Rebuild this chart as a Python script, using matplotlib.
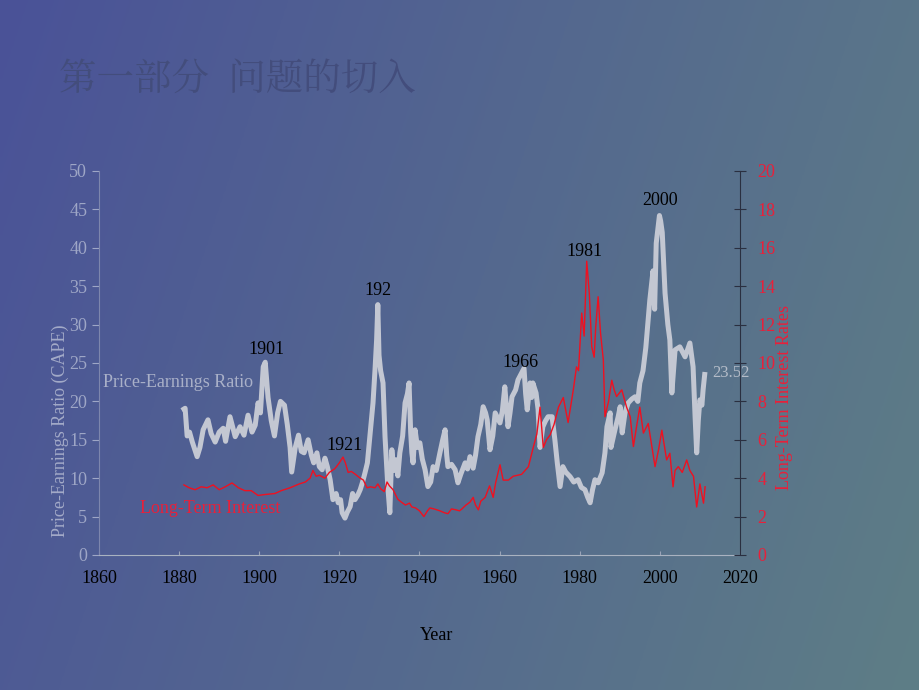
import numpy as np
import matplotlib
matplotlib.use("Agg")
import matplotlib.pyplot as plt

# CAPE (Price-Earnings Ratio)
cape_years = [1881.2, 1881.5, 1882.0, 1882.6, 1883.3, 1884.5, 1885.2, 1886.0, 1887.2, 1888.0,
              1889.0, 1890.0, 1891.0, 1891.6, 1892.7, 1894.0, 1895.2, 1896.2, 1897.2, 1898.2,
              1899.0, 1899.7, 1900.3, 1901.0, 1901.5, 1902.2, 1903.0, 1903.8, 1904.6, 1905.3,
              1906.3, 1907.0, 1907.7, 1908.1, 1909.0, 1909.8, 1910.5, 1911.2, 1912.2, 1913.0,
              1913.6, 1914.4, 1915.0, 1915.7, 1916.4, 1917.0, 1917.7, 1918.4, 1919.2, 1919.7,
              1920.3, 1920.7, 1921.4, 1922.0, 1922.7, 1923.3, 1923.9, 1924.6, 1925.2, 1925.8,
              1926.4, 1927.0, 1927.6, 1928.4, 1928.9, 1929.3, 1929.6, 1929.9, 1930.3, 1930.9,
              1931.4, 1932.1, 1932.6, 1933.1, 1933.6, 1934.1, 1934.6, 1935.1, 1935.8, 1936.4,
              1937.0, 1937.4, 1937.8, 1938.1, 1938.4, 1938.9, 1939.5, 1940.1, 1940.7, 1941.4,
              1942.1, 1942.8, 1943.4, 1944.2, 1945.1, 1945.8, 1946.4, 1946.8, 1947.1, 1948.0,
              1948.9, 1949.6, 1950.3, 1951.4, 1952.0, 1952.6, 1953.4, 1954.0, 1954.6, 1955.3,
              1955.9, 1956.5, 1956.9, 1957.6, 1958.3, 1958.9, 1960.1, 1960.7, 1961.3, 1962.1,
              1962.6, 1963.1, 1964.0, 1964.6, 1965.6, 1966.1, 1966.5, 1966.9, 1967.6, 1968.0,
              1968.3, 1969.1, 1969.6, 1970.1, 1970.8, 1971.5, 1972.1, 1973.1, 1973.8, 1974.4,
              1975.1, 1975.8, 1976.5, 1977.6, 1978.5, 1979.6, 1980.4, 1981.3, 1982.0, 1982.6,
              1983.2, 1983.8, 1984.6, 1985.6, 1986.3, 1986.8, 1987.6, 1987.8, 1988.8, 1989.6,
              1990.1, 1990.6, 1991.3, 1992.1, 1993.0, 1993.8, 1994.5, 1995.0, 1995.8, 1996.5,
              1997.5, 1998.3, 1998.7, 1999.1, 1999.9, 2000.2, 2000.6, 2001.3, 2002.0, 2002.5,
              2003.0, 2003.8, 2005.0, 2006.3, 2007.5, 2008.3, 2008.8, 2009.2, 2009.6, 2010.0,
              2010.5, 2010.8, 2011.2]
cape_vals = [19.0, 19.1, 15.5, 16.0, 14.7, 12.8, 14.0, 16.3, 17.6, 15.8,
             14.7, 16.0, 16.5, 14.8, 18.0, 15.4, 16.7, 15.6, 18.2, 16.0,
             16.9, 19.8, 18.5, 24.5, 25.1, 20.5, 17.5, 15.5, 18.5, 20.0,
             19.5, 17.0, 14.0, 10.8, 14.0, 15.6, 13.5, 13.3, 15.0, 13.0,
             12.0, 13.3, 11.5, 11.1, 12.6, 11.5, 9.8, 7.2, 8.0, 6.8,
             7.2, 5.5, 4.8, 5.6, 6.3, 8.0, 7.2, 7.8, 8.5, 9.5,
             10.7, 12.0, 15.4, 19.8, 24.1, 28.0, 32.6, 26.0, 24.0, 22.4,
             15.4, 8.9, 5.5, 13.7, 11.0, 12.4, 10.3, 13.3, 15.5, 19.8,
             21.0, 22.4, 16.0, 13.3, 12.0, 16.3, 14.0, 14.6, 12.5, 11.1,
             8.9, 9.5, 11.5, 11.0, 13.3, 15.0, 16.3, 13.0, 11.5, 11.8,
             11.1, 9.4, 10.5, 12.0, 11.2, 12.8, 11.3, 13.0, 15.4, 17.0,
             19.3, 18.5, 17.6, 13.7, 15.5, 18.5, 17.2, 18.8, 21.9, 16.7,
             18.5, 20.6, 21.5, 22.8, 23.8, 24.3, 21.0, 18.9, 22.4, 20.5,
             22.4, 21.1, 19.0, 14.0, 16.7, 17.5, 18.0, 18.0, 15.0, 12.0,
             8.9, 11.5, 10.8, 10.2, 9.5, 9.8, 8.8, 8.5, 7.5, 6.8,
             8.5, 9.8, 9.4, 10.7, 13.3, 16.7, 18.5, 14.0, 16.3, 18.0,
             19.3, 15.9, 18.5, 19.8, 20.3, 20.6, 20.0, 22.4, 24.0, 27.0,
             33.2, 37.0, 32.0, 40.6, 44.2, 43.5, 42.0, 34.1, 30.0, 28.0,
             21.1, 26.7, 27.1, 25.8, 27.6, 24.5, 18.0, 13.3, 17.5, 20.2,
             19.5, 21.5, 23.5]

# Long-term interest rates
rate_years = [1881.2, 1882.5, 1884.0, 1885.5, 1887.0, 1888.5, 1890.0, 1891.5, 1893.2, 1894.8,
              1896.4, 1898.0, 1899.7, 1901.5, 1903.9, 1905.5, 1907.7, 1910.0, 1911.5, 1912.7,
              1913.4, 1914.2, 1915.0, 1916.4, 1917.5, 1918.9, 1920.0, 1920.9, 1921.5, 1922.2,
              1923.0, 1924.0, 1925.2, 1926.0, 1926.9, 1927.8, 1928.9, 1929.6, 1930.3, 1931.2,
              1931.9, 1932.5, 1933.4, 1934.6, 1935.5, 1936.5, 1937.5, 1938.1, 1939.0, 1940.0,
              1941.1, 1942.0, 1942.6, 1943.6, 1945.1, 1946.2, 1947.1, 1948.0, 1949.1, 1950.0,
              1950.6, 1951.6, 1952.6, 1953.4, 1954.0, 1954.7, 1955.3, 1956.4, 1957.5, 1958.4,
              1959.0, 1960.1, 1960.9, 1962.2, 1963.4, 1965.5, 1967.2, 1968.4, 1969.3, 1970.1,
              1970.9, 1971.7, 1972.6, 1973.6, 1974.7, 1975.9, 1977.1, 1978.4, 1979.2, 1979.7,
              1980.5, 1981.1, 1981.75, 1982.4, 1983.0, 1983.6, 1984.0, 1984.6, 1985.2, 1985.9,
              1986.3, 1987.2, 1988.0, 1988.6, 1989.2, 1990.5, 1991.7, 1992.6, 1993.4, 1994.2,
              1995.0, 1995.9, 1997.1, 1997.9, 1998.8, 1999.7, 2000.5, 2001.7, 2002.5, 2003.3,
              2003.8, 2004.6, 2005.6, 2006.7, 2007.5, 2008.4, 2009.2, 2010.0, 2010.9, 2011.3]
rate_vals = [3.65, 3.5, 3.4, 3.55, 3.5, 3.65, 3.4, 3.55, 3.75, 3.5,
             3.35, 3.35, 3.1, 3.15, 3.2, 3.35, 3.5, 3.7, 3.8, 4.0,
             4.4, 4.1, 4.15, 4.0, 4.3, 4.5, 4.8, 5.1, 4.8, 4.3,
             4.35, 4.2, 4.0, 3.9, 3.5, 3.55, 3.5, 3.7, 3.45, 3.3,
             3.8, 3.6, 3.4, 2.9, 2.75, 2.6, 2.7, 2.5, 2.45, 2.3,
             2.0, 2.3, 2.45, 2.4, 2.3, 2.2, 2.15, 2.4, 2.35, 2.3,
             2.4, 2.6, 2.75, 3.0, 2.6, 2.35, 2.8, 3.0, 3.6, 3.0,
             3.75, 4.7, 3.9, 3.9, 4.1, 4.2, 4.6, 5.6, 6.3, 7.7,
             5.6, 6.0, 6.25, 6.8, 7.7, 8.2, 6.9, 8.6, 9.8, 9.6,
             12.6, 11.4, 15.3, 13.6, 10.85, 10.3, 11.9, 13.45, 11.55, 10.15,
             7.2, 8.0, 9.1, 8.6, 8.25, 8.6, 7.7, 7.2, 5.65, 6.7,
             7.7, 6.35, 6.85, 5.8, 4.6, 5.5, 6.5, 4.95, 5.3, 3.55,
             4.4, 4.6, 4.3, 4.95, 4.4, 4.1, 2.5, 3.7, 2.7, 3.55]

# peak labels: (text, x, y on the P/E scale)
peak_labels = [("1901", 1901.7, 26.7), ("192", 1929.6, 34.4), ("1921", 1921.2, 14.3),
               ("1966", 1965.1, 25.0), ("1981", 1981.3, 39.5), ("2000", 2000.0, 46.1)]

serif = ["Liberation Serif", "DejaVu Serif"]
plt.rcParams["font.family"] = serif

fig = plt.figure(figsize=(9.2, 6.9), dpi=100)

# background gradient
bg = fig.add_axes([0, 0, 1, 1], zorder=-10)
gx = np.linspace(0, 1, 256)[None, :]
gy = np.linspace(0, 1, 256)[:, None]
t = np.clip(0.8 * gx + 0.2 * gy, 0, 1)
left = np.array([74, 82, 152]) / 255.0
right = np.array([94, 126, 134]) / 255.0
img = left[None, None, :] * (1 - t[..., None]) + right[None, None, :] * t[..., None]
bg.imshow(img, aspect="auto", extent=[0, 1, 0, 1])
bg.axis("off")

fig.text(0.064, 0.884, "第一部分  问题的切入", fontsize=27, color="#434d7c",
         family=["Noto Serif CJK SC", "Noto Sans CJK SC", "DejaVu Sans"], va="center")

ax = fig.add_axes([0.1076, 0.1957, 0.6967, 0.5565])
ax.set_facecolor("none")
ax.plot(cape_years, cape_vals, color="#c3c7d2", lw=3.6, solid_joinstyle="round")
ax.set_xlim(1860, 2020)
ax.set_ylim(0, 50)
ax.set_xticks(range(1860, 2021, 20))
ax.set_yticks(range(0, 51, 5))
ax.tick_params(axis="y", colors="#9ea6c6", labelsize=13, direction="out", length=5)
ax.tick_params(axis="x", colors="#9aa4b8", labelcolor="black", labelsize=13,
               direction="in", length=3, pad=11)
for s in ["top", "right"]:
    ax.spines[s].set_visible(False)
ax.spines["left"].set_color("#7d86ad")
ax.spines["bottom"].set_color("#a9b2c0")

ax2 = ax.twinx()
ax2.plot(rate_years, rate_vals, color="#f01020", lw=1.0)
ax2.set_ylim(0, 20)
ax2.set_yticks(range(0, 21, 2))
ax2.tick_params(axis="y", colors="#2a2f40", labelcolor="#e8203a", labelsize=13,
                direction="inout", length=9, pad=8)
for s in ["top", "left", "bottom"]:
    ax2.spines[s].set_visible(False)
ax2.spines["right"].set_color("#2a2f40")

for txt, x, y in peak_labels:
    ax.text(x, y, txt, ha="center", va="center", fontsize=13, color="black")
ax.text(1861.0, 22.5, "Price-Earnings Ratio", fontsize=13, color="#a9b0c8", va="center")
ax.text(1870.2, 6.1, "Long-Term Interest", fontsize=13, color="#e8203a", va="center")
ax.text(2013.0, 23.7, "23.52", fontsize=12, color="#b4bcc8", va="center", clip_on=False)

ax.text(-0.061, 0.323, "Price-Earnings Ratio (CAPE)", transform=ax.transAxes, rotation=90,
        ha="center", va="center", fontsize=13, color="#a3aac8")
ax.text(1.070, 0.41, "Long-Term Interest Rates", transform=ax.transAxes, rotation=90,
        ha="center", va="center", fontsize=13, color="#e8203a")
ax.text(0.527, -0.21, "Year", transform=ax.transAxes, ha="center", va="center",
        fontsize=13, color="black")

fig.savefig("out.png", dpi=100)
